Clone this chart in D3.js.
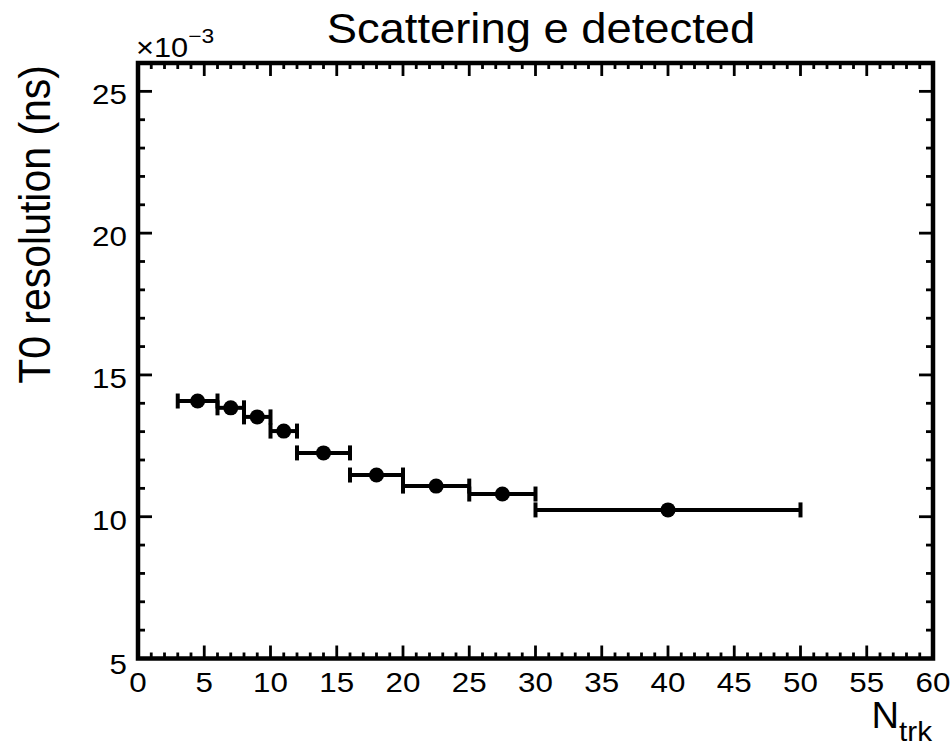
<!DOCTYPE html>
<html><head><meta charset="utf-8">
<script src="https://cdn.jsdelivr.net/npm/d3@7"></script>
<style>body{margin:0;background:#fff}svg{display:block}text{font-family:"Liberation Sans",Arial,sans-serif;fill:#000}</style>
</head><body>
<svg id="c" width="951" height="747"></svg>
<script>
// Data (y in units of 1e-3 ns)
const xCenter = [4.5, 7, 9, 11, 14, 18, 22.5, 27.5, 40];
const xLow    = [3, 6, 8, 10, 12, 16, 20, 25, 30];
const xHigh   = [6, 8, 10, 12, 16, 20, 25, 30, 50];
const yValue  = [14.08, 13.84, 13.52, 13.02, 12.25, 11.47, 11.08, 10.8, 10.24];
const xTicks  = [0,5,10,15,20,25,30,35,40,45,50,55,60];
const yTicks  = [5,10,15,20,25];

const svg = d3.select("#c");
const L = 138, R = 933, T = 63, B = 658.5;
const SX = 1.1; // horizontal stretch of the reference's text
const x = d3.scaleLinear().domain([0,60]).range([L,R]);
const y = d3.scaleLinear().domain([5,26]).range([B,T]);

function txt(parent, px, py, size, anchor, s) {
  return parent.append("text")
    .attr("transform", `translate(${px},${py}) scale(${s||SX},1)`)
    .attr("font-size", size).attr("text-anchor", anchor);
}

// ticks (inward) on all four sides
const g = svg.append("g");
d3.range(0,61,1).forEach(v=>{
  const len = v%5===0?13:6;
  g.append("line").attr("x1",x(v)).attr("x2",x(v)).attr("y1",B).attr("y2",B-len).attr("stroke","#000").attr("stroke-width",2.8);
  g.append("line").attr("x1",x(v)).attr("x2",x(v)).attr("y1",T).attr("y2",T+len).attr("stroke","#000").attr("stroke-width",2.8);
});
d3.range(5,26.01,1).forEach(v=>{
  const len = v%5===0?14:7;
  g.append("line").attr("y1",y(v)).attr("y2",y(v)).attr("x1",L).attr("x2",L+len).attr("stroke","#000").attr("stroke-width",2.8);
  g.append("line").attr("y1",y(v)).attr("y2",y(v)).attr("x1",R).attr("x2",R-len).attr("stroke","#000").attr("stroke-width",2.8);
});
// frame
svg.append("rect").attr("x",L).attr("y",T).attr("width",R-L).attr("height",B-T)
  .attr("fill","none").attr("stroke","#000").attr("stroke-width",4.5);

// tick labels
const xl = svg.append("g");
xTicks.forEach(t=>{ txt(xl, x(t), 692, 28, "middle", 1.12).text(t); });
const yl = svg.append("g");
yTicks.forEach(t=>{ txt(yl, 127, y(t)+(t===5?15:13), 28, "end", 1.12).text(t); });

// exponent label
const ex = txt(svg, 136, 57, 27, "start", 1.14);
ex.append("tspan").text("×10");
ex.append("tspan").attr("font-size",20).attr("dy",-14).text("−3");

// title
txt(svg, 541, 43, 42, "middle", 1.08).text("Scattering e detected");

// y label
svg.append("text").attr("transform",`translate(50,65) scale(${SX},1) rotate(-90)`)
  .attr("text-anchor","end").attr("font-size",41).text("T0 resolution (ns)");

// x label
const xt = txt(svg, 932, 728, 36, "end", 1.06);
xt.append("tspan").text("N");
xt.append("tspan").attr("font-size",28).attr("dy",13).text("trk");

// data
const d = xCenter.map((c,i)=>({c,lo:xLow[i],hi:xHigh[i],v:yValue[i]}));
const pg = svg.append("g");
pg.selectAll("line.eb").data(d).join("line").attr("class","eb")
  .attr("x1",p=>x(p.lo)).attr("x2",p=>x(p.hi)).attr("y1",p=>y(p.v)).attr("y2",p=>y(p.v))
  .attr("stroke","#000").attr("stroke-width",4);
pg.selectAll("line.cl").data(d).join("line").attr("class","cl")
  .attr("x1",p=>x(p.lo)).attr("x2",p=>x(p.lo)).attr("y1",p=>y(p.v)-7.5).attr("y2",p=>y(p.v)+7.5)
  .attr("stroke","#000").attr("stroke-width",4);
pg.selectAll("line.ch").data(d).join("line").attr("class","ch")
  .attr("x1",p=>x(p.hi)).attr("x2",p=>x(p.hi)).attr("y1",p=>y(p.v)-7.5).attr("y2",p=>y(p.v)+7.5)
  .attr("stroke","#000").attr("stroke-width",4);
pg.selectAll("circle").data(d).join("circle")
  .attr("cx",p=>x(p.c)).attr("cy",p=>y(p.v)).attr("r",7.5).attr("fill","#000");
</script>
</body></html>
